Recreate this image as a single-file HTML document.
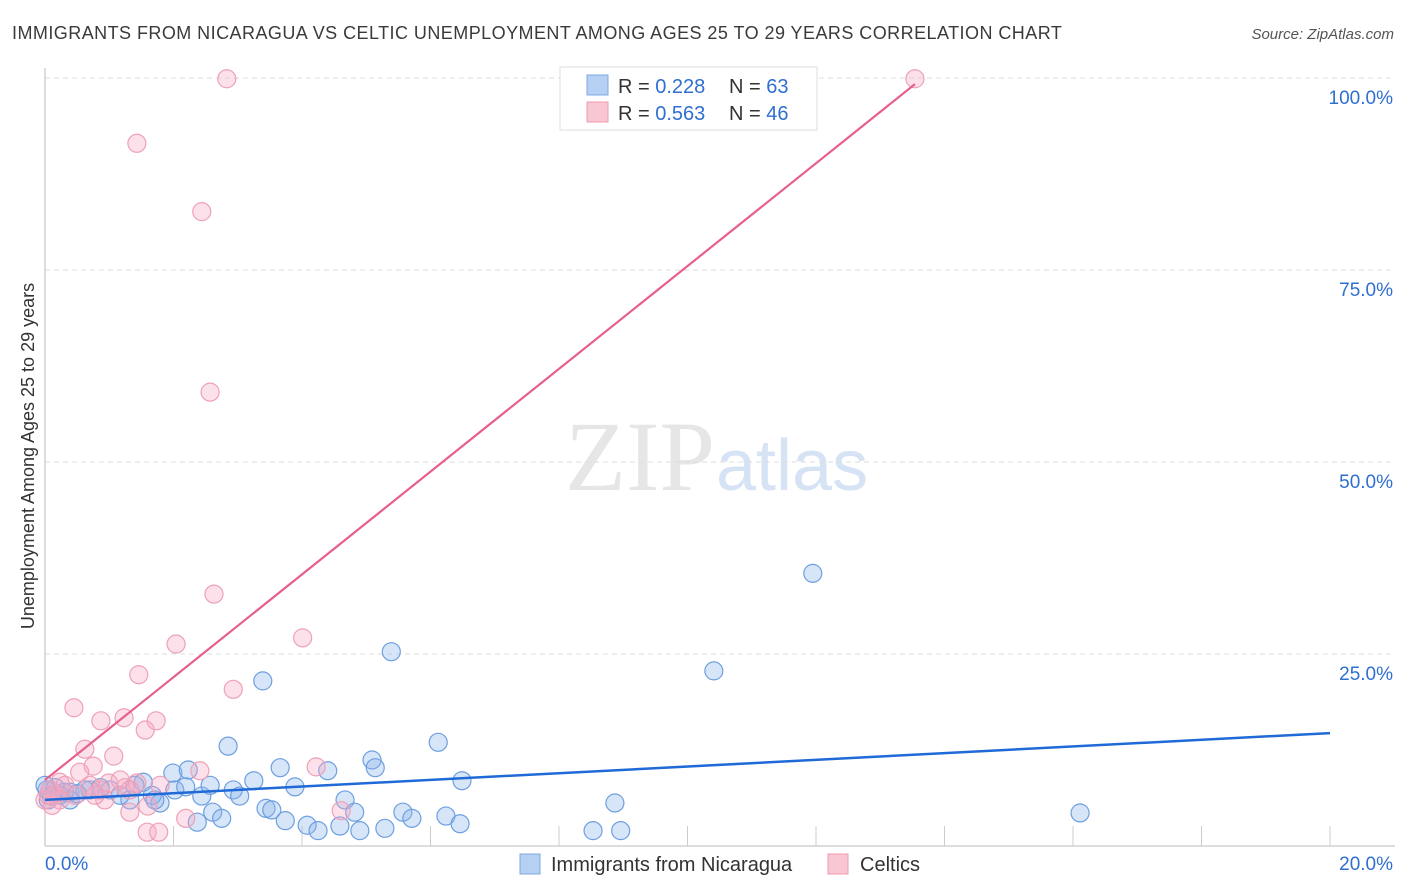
<!DOCTYPE html>
<html><head><meta charset="utf-8"><style>
body{margin:0;background:#fff;font-family:"Liberation Sans",sans-serif;}
svg{display:block}
</style></head><body>
<svg id="chart" width="1406" height="892">
<text x="12" y="39" font-size="18" fill="#3a3a3a" letter-spacing="0.45">IMMIGRANTS FROM NICARAGUA VS CELTIC UNEMPLOYMENT AMONG AGES 25 TO 29 YEARS CORRELATION CHART</text>
<text x="1394" y="39" font-size="15" fill="#555" font-style="italic" text-anchor="end">Source: ZipAtlas.com</text>
<text x="715" y="490" font-size="100" fill="#e6e6e6" text-anchor="end" font-family="Liberation Serif,serif">ZIP</text>
<text x="716" y="490" font-size="72" fill="#d6e3f5">atlas</text>
<g id="grid"></g>
<g id="axes"></g>
<g id="pts"></g>
<g id="trends"></g>
<text transform="translate(34,456) rotate(-90)" font-size="18" fill="#333" text-anchor="middle">Unemployment Among Ages 25 to 29 years</text>
<g>
<rect x="560" y="67" width="257" height="63" fill="#fff" stroke="#ddd"/>
<rect x="587" y="75" width="21" height="20" fill="#b6d0f3" stroke="#7fa9e3"/>
<rect x="587" y="102" width="21" height="20" fill="#f9c6d4" stroke="#ee9ab2"/>
<text x="618" y="93" font-size="20" fill="#333">R = <tspan fill="#2f6fd0">0.228</tspan></text>
<text x="729" y="93" font-size="20" fill="#333">N = <tspan fill="#2f6fd0">63</tspan></text>
<text x="618" y="120" font-size="20" fill="#333">R = <tspan fill="#2f6fd0">0.563</tspan></text>
<text x="729" y="120" font-size="20" fill="#333">N = <tspan fill="#2f6fd0">46</tspan></text>
</g>
<g>
<rect x="520" y="854" width="20" height="20" fill="#b6d0f3" stroke="#7fa9e3"/>
<text x="551" y="871" font-size="20" fill="#333">Immigrants from Nicaragua</text>
<rect x="828" y="854" width="20" height="20" fill="#f9c6d4" stroke="#ee9ab2"/>
<text x="860" y="871" font-size="20" fill="#333">Celtics</text>
</g>
</svg>
<script>
const xTickValues=[0,2,4,6,8,10,12,14,16,18,20];
const xTickLabels=["0.0%","20.0%"];
const yTickValues=[25,50,75,100];
const yTickLabels=["25.0%","50.0%","75.0%","100.0%"];
const blueX=[0.03,0.16,0.39,0.70,1.01,1.32,1.53,1.79,1.67,2.02,1.99,2.23,2.19,2.44,2.57,2.37,2.61,2.75,2.85,2.93,3.03,3.25,3.39,3.44,3.53,3.66,3.74,3.89,4.08,4.25,4.40,4.59,4.67,4.82,4.90,5.09,5.14,5.29,5.39,5.57,5.71,6.12,6.24,6.46,6.49,8.53,8.87,8.96,10.41,11.95,16.11,0.05,0.23,0.86,1.17,1.40,1.71,0.39,0.62,0.10,0.30,0.50,0.00];
const blueY=[7.3,7.6,7.0,7.3,7.3,6.0,8.3,5.6,6.6,7.3,9.5,9.9,7.7,6.5,7.9,3.1,4.4,3.6,13.0,7.3,6.5,8.5,21.5,4.9,4.7,10.2,3.3,7.7,2.7,2.0,9.8,2.6,6.0,4.4,2.0,11.2,10.2,2.3,25.3,4.4,3.6,13.5,3.9,2.9,8.5,2.0,5.6,2.0,22.8,35.5,4.3,6.0,6.6,7.6,6.6,7.9,6.0,6.0,7.3,6.5,7.0,6.8,7.9];
const pinkX=[2.83,1.43,2.44,2.57,2.63,4.01,2.04,1.46,2.93,0.45,1.23,0.87,1.73,1.56,0.62,1.07,0.75,4.22,2.41,0.54,0.99,1.43,1.25,0.23,1.32,1.60,2.19,1.59,1.77,4.61,13.54,0.08,0.16,0.31,0.70,0.86,1.79,0.93,0.00,0.47,1.32,1.17,0.78,0.23,0.11,0.05];
const pinkY=[99.9,91.5,82.6,59.1,32.8,27.1,26.3,22.3,20.4,18.0,16.7,16.3,16.3,15.1,12.6,11.7,10.4,10.3,9.8,9.6,8.2,8.2,7.6,8.3,4.4,5.2,3.6,1.8,1.8,4.6,99.9,7.3,6.6,7.9,7.9,7.3,7.9,6.0,6.0,6.6,7.3,8.6,6.6,6.0,5.3,6.6];
const blueTrend=[[0,6.0],[20,14.7]];
const pinkTrend=[[0,8.6],[13.54,99.2]];
const NS='http://www.w3.org/2000/svg';
const X=v=>45+v*64.25, Y=v=>846-v*7.68;
function mk(t,a,p){const e=document.createElementNS(NS,t);for(const k in a)e.setAttribute(k,a[k]);p.appendChild(e);return e;}
const grid=document.getElementById('grid'),axes=document.getElementById('axes'),pts=document.getElementById('pts'),tr=document.getElementById('trends');
yTickValues.forEach((v,i)=>{
 const l=mk('line',{x1:45,x2:1395,y1:Y(v),y2:Y(v),stroke:'#ddd','stroke-dasharray':'5,4'},grid);
 
 
 const t=mk('text',{x:1393,y:Y(v)+26,'font-size':19,fill:'#2f6fd0','text-anchor':'end'},axes);
 t.textContent=yTickLabels[i];
 
 
});
let a=mk('line',{x1:45,x2:45,y1:68,y2:846,stroke:'#bbb'},axes);


a=mk('line',{x1:45,x2:1395,y1:846,y2:846,stroke:'#bbb'},axes);


xTickValues.forEach(v=>{
 if(v===0)return;
 const l=mk('line',{x1:X(v),x2:X(v),y1:826,y2:846,stroke:'#ccc'},axes);
 
 
});
[[0,'start'],[20,'end']].forEach(([v,anc],i)=>{
 const t=mk('text',{x:X(v)+(i?63:0),y:870,'font-size':19,fill:'#2f6fd0','text-anchor':anc},axes);
 t.textContent=xTickLabels[i];
 
 
});
blueX.forEach((x,i)=>{
 const c=mk('circle',{cx:X(x),cy:Y(blueY[i]),r:9,fill:'rgba(140,180,235,0.35)',stroke:'#6d9fe0','stroke-width':1.2},pts);
 
 
});
pinkX.forEach((x,i)=>{
 const c=mk('circle',{cx:X(x),cy:Y(pinkY[i]),r:9,fill:'rgba(245,170,195,0.35)',stroke:'#eea0b8','stroke-width':1.2},pts);
 
 
});
let l=mk('line',{x1:X(blueTrend[0][0]),y1:Y(blueTrend[0][1]),x2:X(blueTrend[1][0]),y2:Y(blueTrend[1][1]),stroke:'#1f6ad6','stroke-width':2.5},tr);


l=mk('line',{x1:X(pinkTrend[0][0]),y1:Y(pinkTrend[0][1]),x2:X(pinkTrend[1][0]),y2:Y(pinkTrend[1][1]),stroke:'#e6608a','stroke-width':2.2},tr);


</script>
</body></html>
